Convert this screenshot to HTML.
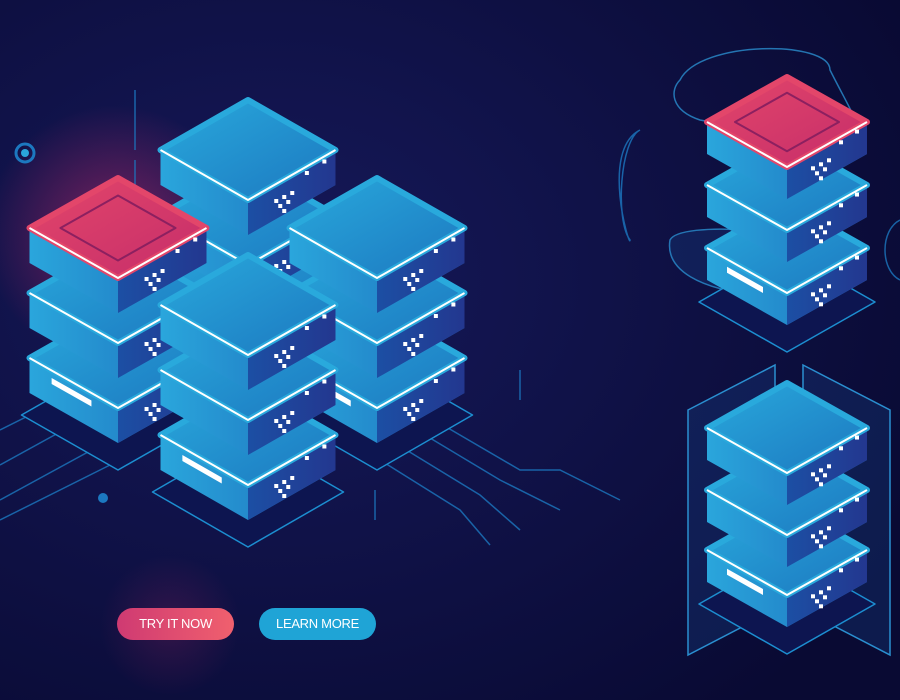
<!DOCTYPE html>
<html><head><meta charset="utf-8"><style>
html,body{margin:0;padding:0;width:900px;height:700px;overflow:hidden;background:#0b0c3a}
svg{position:absolute;left:0;top:0}
.btn{position:absolute;top:608px;height:32px;border-radius:16px;color:#fff;font-family:"Liberation Sans Narrow","Liberation Sans",sans-serif;font-size:13px;letter-spacing:-0.3px;line-height:32px;text-align:center;}
</style></head><body>
<svg id="s" width="900" height="700" viewBox="0 0 900 700" xmlns="http://www.w3.org/2000/svg">
<defs>
<radialGradient id="bg" cx="0.3" cy="0.4" r="0.8"><stop offset="0" stop-color="#16195a"/><stop offset="1" stop-color="#090a33"/></radialGradient>
<radialGradient id="glow" cx="0.5" cy="0.5" r="0.5"><stop offset="0" stop-color="#d02a6a" stop-opacity="0.55"/><stop offset="1" stop-color="#d02a6a" stop-opacity="0"/></radialGradient>
<linearGradient id="top" x1="0" y1="0" x2="1" y2="1"><stop offset="0" stop-color="#29a9dc"/><stop offset="1" stop-color="#1c78c0"/></linearGradient>
<linearGradient id="lside" x1="0" y1="0" x2="1" y2="0"><stop offset="0" stop-color="#2aa6dc"/><stop offset="1" stop-color="#1d6fbc"/></linearGradient>
<linearGradient id="rside" x1="0" y1="0" x2="1" y2="0"><stop offset="0" stop-color="#1c4fa4"/><stop offset="1" stop-color="#23378f"/></linearGradient>
<linearGradient id="red" x1="0" y1="0" x2="1" y2="1"><stop offset="0" stop-color="#e3466a"/><stop offset="1" stop-color="#c52d6a"/></linearGradient>
</defs>
<rect width="900" height="700" fill="url(#bg)"/>
<circle cx="115" cy="235" r="130" fill="url(#glow)"/>
<circle cx="170" cy="625" r="70" fill="url(#glow)" opacity="0.35"/>
<g id="lines" stroke="#1c78c0" stroke-width="1.5" fill="none" opacity="0.8">
<path d="M0 430 L90 385"/><path d="M0 465 L100 410"/><path d="M0 500 L110 440"/><path d="M0 520 L120 460"/>
<path d="M400 400 L520 470 L560 470 L620 500"/><path d="M400 420 L500 480 L560 510"/><path d="M390 440 L480 495 L520 530"/><path d="M380 460 L460 510 L490 545"/>
<path d="M135 90 V150"/><path d="M135 160 V200"/><path d="M520 370 V400"/><path d="M375 490 V520"/>
<path d="M640 130 C600 150 630 250 630 240 C615 220 620 140 640 130Z"/>
<path d="M680 80 C700 40 830 40 830 70 C850 110 870 140 860 150 L700 120 C670 110 670 90 680 80Z" stroke="#2a8fd0"/>
<path d="M670 240 C680 220 810 230 830 250 C840 280 800 300 760 295 C700 290 665 270 670 240Z" stroke="#2a8fd0" fill="#1a4f9a" fill-opacity="0.3"/>
<path d="M900 220 C880 230 880 270 900 280"/>
</g>
<circle cx="25" cy="153" r="9" fill="none" stroke="#1c78c0" stroke-width="3"/><circle cx="25" cy="153" r="4" fill="#2aa6dc"/>
<circle cx="103" cy="498" r="5" fill="#1c78c0"/>
<g id="g"></g>
</svg>
<div class="btn" style="left:117px;width:117px;background:linear-gradient(90deg,#cf3a72,#f0606e)">TRY IT NOW</div>
<div class="btn" style="left:259px;width:117px;background:#1fa4d6">LEARN MORE</div>
<script>
const g=document.getElementById('g');let h='';
function slab(cx,cy,w,d,t,red,bar){const a=w/2,b=d/2;
 h+=`<polygon points="${cx-a},${cy} ${cx},${cy+b} ${cx+a},${cy} ${cx+a},${cy+t} ${cx},${cy+b+t} ${cx-a},${cy+t}" fill="url(#lside)"/>`;
 h+=`<polygon points="${cx},${cy+b} ${cx+a},${cy} ${cx+a},${cy+t} ${cx},${cy+b+t}" fill="url(#rside)"/>`;
 h+=`<polygon points="${cx-a},${cy} ${cx},${cy-b} ${cx+a},${cy} ${cx},${cy+b}" fill="${red?'url(#red)':'url(#top)'}" stroke="${red?'#e3466a':'#29a9dc'}" stroke-width="6" stroke-linejoin="round"/>`;
 h+=`<polyline points="${cx-a},${cy} ${cx},${cy+b} ${cx+a},${cy}" fill="none" stroke="#fff" stroke-width="2" stroke-linejoin="round"/>`;
 if(red)h+=`<polygon points="${cx-a*0.65},${cy} ${cx},${cy-b*0.65} ${cx+a*0.65},${cy} ${cx},${cy+b*0.65}" fill="none" stroke="#8c2060" stroke-width="2" stroke-linejoin="round"/>`;
 const px=cx+a*0.3,py=cy+b*0.7+t*0.4;
 [[0,0],[8,-4],[16,-8],[4,5],[12,1],[8,10]].forEach(p=>h+=`<rect x="${px+p[0]}" y="${py+p[1]}" width="4" height="4" fill="#fff"/>`);
 h+=`<rect x="${cx+a*0.65}" y="${cy+b*0.3+t*0.4-8}" width="4" height="4" fill="#fff"/>`;
 h+=`<rect x="${cx+a*0.85}" y="${cy+b*0.15+t*0.4-12}" width="4" height="4" fill="#fff"/>`;
 if(bar)h+=`<polygon points="${cx-a*0.75},${cy+t*0.4+6} ${cx-a*0.3},${cy+t*0.4+6+b*0.45} ${cx-a*0.3},${cy+t*0.4+12+b*0.45} ${cx-a*0.75},${cy+t*0.4+12}" fill="#fff"/>`;
}
function floor(cx,cy,w,d){const a=w/2+8,b=d/2+5;
 h+=`<polygon points="${cx-a},${cy} ${cx},${cy-b} ${cx+a},${cy} ${cx},${cy+b}" fill="#0d1550" stroke="#1c8ed0" stroke-width="1.5" stroke-linejoin="round"/>`;}
function stack(cx,cys,w,d,t,redTop){floor(cx,cys[cys.length-1]+t+22,w,d);
 for(let i=cys.length-1;i>=0;i--)slab(cx,cys[i],w,d,t,redTop&&i==0,i==cys.length-1);}
stack(248,[150,215,280],175,100,35,false);
stack(118,[228,293,358],177,100,35,true);
stack(377,[228,293,358],175,100,35,false);
stack(248,[305,370,435],175,100,35,false);
stack(787,[122,185,248],160,90,32,true);
h+=`<polygon points="688,410 775,365 775,610 688,655" fill="#1a4f9a" fill-opacity="0.25" stroke="#2a8fd0" stroke-width="1.5"/>`;
h+=`<polygon points="803,365 890,410 890,655 803,610" fill="#1a4f9a" fill-opacity="0.25" stroke="#2a8fd0" stroke-width="1.5"/>`;
stack(787,[428,490,550],160,90,32,false);
g.innerHTML=h;
</script>
</body></html>
